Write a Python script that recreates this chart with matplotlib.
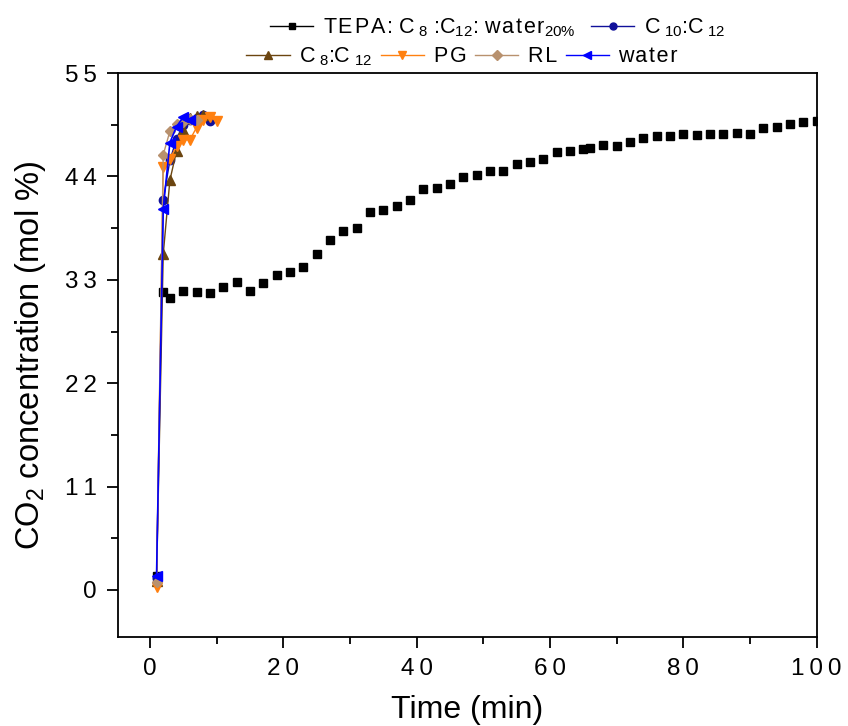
import numpy as np
import matplotlib
matplotlib.use('Agg')
import matplotlib.pyplot as plt
from matplotlib.lines import Line2D
from matplotlib.ticker import FuncFormatter

plt.rcParams['font.family'] = ['Liberation Sans', 'DejaVu Sans']
plt.rcParams['mathtext.fontset'] = 'custom'
plt.rcParams['mathtext.rm'] = 'Liberation Sans'

# TEPA:C8:C12:water 20% (markers only in the plot)
tepa_x = [1, 2, 3, 5, 7, 9, 11, 13, 15, 17, 19, 21, 23, 25, 27, 29, 31, 33, 35, 37, 39,
          41, 43, 45, 47, 49, 51, 53, 55, 57, 59, 61, 63, 65, 66, 68, 70, 72, 74, 76, 78,
          80, 82, 84, 86, 88, 90, 92, 94, 96, 98, 100]
tepa_y = [1.5, 31.7, 31.1, 31.8, 31.7, 31.6, 32.2, 32.8, 31.8, 32.7, 33.5, 33.8, 34.4,
          35.7, 37.2, 38.2, 38.5, 40.2, 40.4, 40.9, 41.5, 42.7, 42.8, 43.2, 43.9, 44.2,
          44.6, 44.6, 45.3, 45.5, 45.9, 46.6, 46.7, 46.9, 47.0, 47.3, 47.2, 47.7, 48.1,
          48.3, 48.3, 48.5, 48.4, 48.5, 48.5, 48.6, 48.5, 49.1, 49.3, 49.6, 49.8, 49.9]

c10_x = [1, 2, 3, 4, 5, 6, 7, 8, 9]
c10_y = [1.3, 41.5, 45.7, 48.0, 49.5, 50.0, 50.2, 50.5, 49.9]

c8_x = [1, 2, 3, 4, 5, 6, 7, 8]
c8_y = [1.0, 35.7, 43.6, 46.7, 48.9, 50.2, 50.4, 50.5]

pg_x = [1, 2, 3, 4, 5, 6, 7, 8, 9, 10]
pg_y = [0.3, 45.0, 45.9, 47.2, 47.9, 47.9, 49.2, 50.0, 50.3, 49.9]

rl_x = [1, 2, 3, 4, 5, 6, 7]
rl_y = [0.8, 46.3, 48.8, 49.6, 49.8, 50.1, 50.0]

water_x = [1, 2, 3, 4, 5, 6]
water_y = [1.5, 40.5, 47.6, 49.3, 50.3, 50.0]

fig = plt.figure(figsize=(8.48, 7.26), dpi=100)
ax = fig.add_axes([0.139, 0.1226, 0.824, 0.7768])

ax.plot(tepa_x, tepa_y, ls='none', marker='s', ms=5.5, color='black')
ax.plot(c10_x, c10_y, '-o', color='#10109a', lw=1, ms=6)
ax.plot(c8_x, c8_y, '-^', color='#6b4510', lw=1, ms=7)
ax.plot(pg_x, pg_y, '-v', color='#ff8010', lw=1, ms=7)
ax.plot(rl_x, rl_y, '-D', color='#b8916e', lw=1, ms=5.5)
ax.plot(water_x, water_y, '-<', color='#0000ff', lw=1.2, ms=7)

ax.set_xlim(-4.8, 100)
ax.set_ylim(-5, 55)
ax.set_xticks([0, 20, 40, 60, 80, 100])
ax.set_xticks([10, 30, 50, 70, 90], minor=True)
ax.set_yticks([0, 11, 22, 33, 44, 55])
ax.set_yticks([5.5, 16.5, 27.5, 38.5, 49.5], minor=True)

spaced = FuncFormatter(lambda v, p: '\u2009'.join('%d' % v))
ax.xaxis.set_major_formatter(spaced)
ax.yaxis.set_major_formatter(spaced)

ax.tick_params(which='both', direction='out', width=1.3, labelsize=17.5)
ax.tick_params(which='major', length=8, pad=7)
ax.tick_params(which='minor', length=5)
for s in ax.spines.values():
    s.set_linewidth(1.3)

ax.set_xlabel('Time (min)', fontsize=23, labelpad=11)
ax.set_ylabel('CO$_2$ concentration (mol %)', fontsize=23.5, labelpad=12)

def h(color, marker, ms):
    return Line2D([], [], color=color, marker=marker, ms=ms, lw=1)

def sp(s):
    return '\u200a'.join(s)

hs = '\u2009'
row1 = [h('black', 's', 5), h('#10109a', 'o', 5)]
lab1 = [sp('TEPA:') + ' C' + hs + '$_8$ :C' + '$_{12}$: ' + sp('water') + '$_{20\\%}$',
        'C' + hs + '$_{10}$:C' + hs + '$_{12}$']
row2 = [h('#6b4510', '^', 6), h('#ff8010', 'v', 6), h('#b8916e', 'D', 5), h('#0000ff', '<', 6)]
lab2 = ['C' + hs + '$_8$:C' + hs + '$_{12}$', sp('PG'), sp('RL'), sp('water')]

leg1 = fig.legend(row1, lab1, ncol=2, loc='center', bbox_to_anchor=(0.587, 0.962),
                  frameon=False, fontsize=15.5, handlelength=2.0, columnspacing=0.7,
                  handletextpad=0.45, borderpad=0)
leg2 = fig.legend(row2, lab2, ncol=4, loc='center', bbox_to_anchor=(0.545, 0.922),
                  frameon=False, fontsize=15.5, handlelength=2.0, columnspacing=0.4,
                  handletextpad=0.45, borderpad=0)

fig.savefig('out.png', dpi=100)
